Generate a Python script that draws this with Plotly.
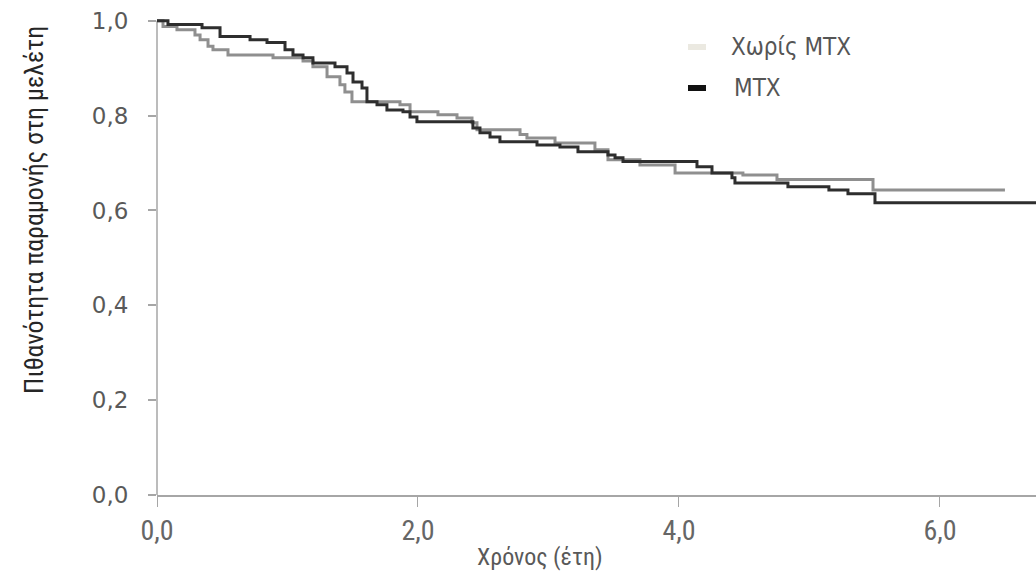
import plotly.graph_objects as go

# Kaplan-Meier step data (time in years, survival probability after step)
t_no_mtx = [0.0, 0.046, 0.153, 0.291, 0.330, 0.391, 0.429, 0.544, 0.889, 1.119, 1.195, 1.303,
            1.402, 1.44, 1.494, 1.862, 1.939, 2.153, 2.299, 2.414, 2.452, 2.782, 2.835, 3.05,
            3.356, 3.456, 3.701, 3.97, 4.49, 4.751, 5.487, 6.498]
s_no_mtx = [1.0, 0.988, 0.981, 0.970, 0.960, 0.946, 0.939, 0.928, 0.922, 0.915, 0.903, 0.882,
            0.865, 0.850, 0.829, 0.823, 0.808, 0.802, 0.795, 0.785, 0.770, 0.760, 0.753, 0.742,
            0.728, 0.707, 0.696, 0.679, 0.675, 0.665, 0.643, 0.643]

t_mtx = [0.0, 0.084, 0.345, 0.483, 0.713, 0.843, 0.981, 1.042, 1.119, 1.195, 1.364, 1.456,
         1.502, 1.571, 1.609, 1.686, 1.762, 1.885, 1.939, 1.992, 2.421, 2.475, 2.552, 2.628,
         2.912, 3.088, 3.226, 3.456, 3.510, 3.571, 4.138, 4.253, 4.406, 4.429, 4.835, 5.149,
         5.295, 5.502, 6.74]
s_mtx = [1.0, 0.992, 0.985, 0.967, 0.960, 0.954, 0.939, 0.928, 0.922, 0.911, 0.903, 0.890,
         0.871, 0.858, 0.829, 0.823, 0.812, 0.808, 0.797, 0.787, 0.774, 0.764, 0.755, 0.745,
         0.738, 0.734, 0.724, 0.717, 0.711, 0.703, 0.692, 0.679, 0.669, 0.658, 0.650, 0.643,
         0.635, 0.616, 0.616]

series_names = ["Χωρίς MTX", "MTX"]
x_tick_vals = [0, 2, 4, 6]
x_tick_text = ["0,0", "2,0", "4,0", "6,0"]
y_tick_vals = [0, 0.2, 0.4, 0.6, 0.8, 1.0]
y_tick_text = ["0,0", "0,2", "0,4", "0,6", "0,8", "1,0"]
x_title = "Χρόνος (έτη)"
y_title = "Πιθανότητα παραμονής στη μελέτη"

W, H = 1036, 580
PLOT_BOTTOM = 495
L, R, T = 157, 0, 16
B = H - PLOT_BOTTOM
FONT = "DejaVu Sans"
NARROW = "Liberation Sans Narrow, Arial Narrow, Roboto Condensed, Liberation Sans"
COND = "DejaVu Sans Condensed, DejaVu Sans"
AXIS_COLOR = "#a6a6a6"


def px(x):  # window pixel -> paper x
    return (x - L) / (W - L - R)


def py(y):  # window pixel -> paper y
    return (H - B - y) / (H - T - B)


fig = go.Figure()
fig.add_trace(go.Scatter(x=t_no_mtx, y=s_no_mtx, mode="lines", line_shape="hv",
                         line=dict(color="#8f8f8f", width=3), name=series_names[0],
                         showlegend=False))
fig.add_trace(go.Scatter(x=t_mtx, y=s_mtx, mode="lines", line_shape="hv",
                         line=dict(color="#2e2e2e", width=3), name=series_names[1],
                         showlegend=False))

# y axis line from 0 to 1 only
fig.add_shape(type="line", xref="paper", yref="y", x0=0, x1=0,
              y0=y_tick_vals[0], y1=y_tick_vals[-1],
              line=dict(color=AXIS_COLOR, width=1.5), layer="below")

# legend drawn manually
swatch_colors = ["#ebe9e1", "#111111"]
swatch_y = [47, 88]
text_x = [729, 732]
for name, col, yy, tx in zip(series_names, swatch_colors, swatch_y, text_x):
    fig.add_shape(type="rect", xref="paper", yref="paper",
                  x0=px(688), x1=px(706), y0=py(yy + 3), y1=py(yy - 3),
                  fillcolor=col, line=dict(width=0))
    fig.add_annotation(xref="paper", yref="paper", x=px(tx), y=py(yy),
                       xanchor="left", yanchor="middle", text=name, showarrow=False,
                       font=dict(family=COND, size=24, color="#555555"))

# axis titles
fig.add_annotation(xref="paper", yref="paper", x=px(540), y=py(557),
                   xanchor="center", yanchor="middle", text=x_title, showarrow=False,
                   font=dict(family=NARROW, size=24, color="#595959"))
fig.add_annotation(xref="paper", yref="paper", x=px(34), y=py(210),
                   xanchor="center", yanchor="middle", text=y_title, showarrow=False,
                   textangle=-90, font=dict(family=NARROW, size=26, color="#262626"))

fig.update_layout(
    width=W, height=H,
    margin=dict(l=L, r=R, t=T, b=B, autoexpand=False),
    plot_bgcolor="white", paper_bgcolor="white",
    showlegend=False,
    font=dict(family=FONT, color="#555555"),
)
fig.update_xaxes(range=[0, 6.736], tickvals=x_tick_vals, ticktext=x_tick_text,
                 automargin=False, ticklabeloverflow="allow",
                 showgrid=False, zeroline=False, showline=True, linecolor=AXIS_COLOR,
                 linewidth=1.5, ticks="outside", ticklen=10, tickcolor=AXIS_COLOR,
                 ticklabelstandoff=0,
                 tickfont=dict(family=NARROW, size=28, color="#666666"))
fig.update_yaxes(range=[0, 1.01], tickvals=y_tick_vals, ticktext=y_tick_text,
                 automargin=False, ticklabeloverflow="allow",
                 showgrid=False, zeroline=False, showline=False,
                 ticks="outside", ticklen=8, tickcolor=AXIS_COLOR, tickwidth=1.5,
                 ticklabelstandoff=15,
                 tickfont=dict(family=FONT, size=23, color="#595959"))

fig.write_html("out.html", config={"displayModeBar": False},
               post_script="document.body.style.margin='0';"
                           "document.body.style.overflow='hidden';")
